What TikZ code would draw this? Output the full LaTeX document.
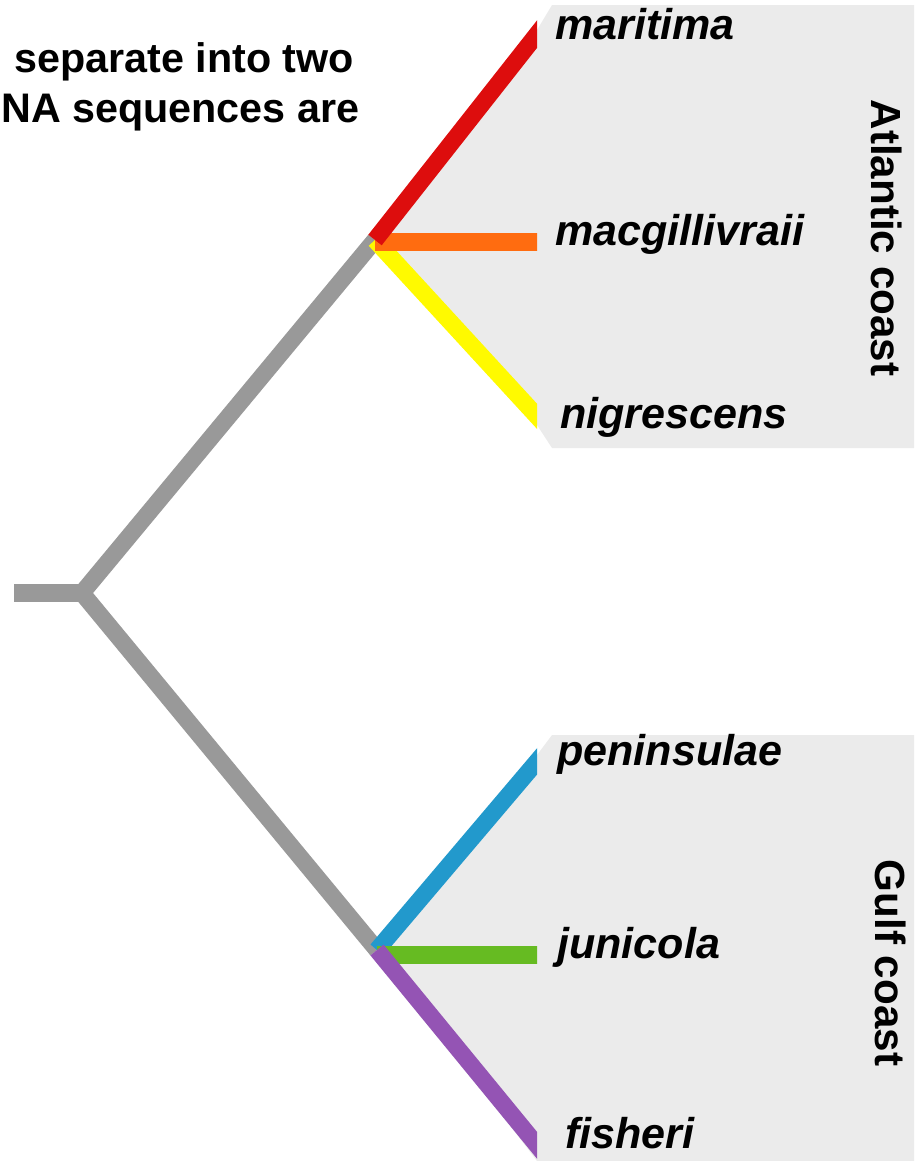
\documentclass[tikz,border=0pt]{standalone}
\usepackage{fontspec}
\setmainfont{Liberation Sans}
\definecolor{branchgray}{RGB}{153,153,153}
\definecolor{panelgray}{RGB}{235,235,235}
\definecolor{maritimared}{RGB}{221,13,13}
\definecolor{macgorange}{RGB}{255,108,16}
\definecolor{nigryellow}{RGB}{255,250,0}
\definecolor{peninblue}{RGB}{34,153,204}
\definecolor{junigreen}{RGB}{102,187,34}
\definecolor{fishpurple}{RGB}{148,84,180}
\tikzset{
  branch/.style={line width=9.7pt},
  spec/.style={font=\fontsize{24.5}{29}\selectfont\bfseries\itshape, anchor=base west, inner sep=0pt},
  coast/.style={font=\fontsize{24}{29}\selectfont\bfseries, rotate=-90, inner sep=0pt},
  note/.style={font=\fontsize{23.5}{28}\selectfont\bfseries, anchor=base west, inner sep=0pt}
}
\begin{document}
\begin{tikzpicture}[x=0.02cm, y=-0.02cm]
        \useasboundingbox (0,0) rectangle (914,1161);
        % Knoten
        \coordinate (stub) at (14,593);
        \coordinate (root) at (82,593);
        \coordinate (atl) at (375,240);
        \coordinate (gulf) at (377,950);
        % Spitzen (bei x=537 abgeschnitten)
        \coordinate (tmar) at (545,24);
        \coordinate (tmac) at (545,242);
        \coordinate (tnig) at (545,425);
        \coordinate (tpen) at (545,752);
        \coordinate (tjun) at (545,955);
        \coordinate (tfis) at (545,1155);
        % Hintergrund
        \fill[panelgray] (atl) -- (537,30) -- (552,5) -- (914,5) -- (914,448) -- (552,448) -- (537,425) -- cycle;
        \fill[panelgray] (gulf) -- (537,755) -- (552,735) -- (914,735) -- (914,1161) -- (537,1161) -- cycle;
        % Text oben
        \draw (14,72) node[note] (line1) {separate into two};
        \draw (1,122) node[note] (line2) {NA sequences are};
        % Stamm
        \draw[branch, branchgray, line join=miter] (atl) -- (root) -- (gulf);
        \draw[branch, branchgray] (stub) -- (root);
        % Aeste
        \begin{scope}
          \clip (0,0) rectangle (537,1161);
          \draw[branch, nigryellow] (atl) -- (tnig);
          \draw[branch, macgorange] (atl |- tmac) -- (tmac);
          \draw[branch, maritimared] (atl) -- (tmar);
          \draw[branch, peninblue] (gulf) -- (tpen);
          \draw[branch, junigreen] (gulf |- tjun) -- (tjun);
          \draw[branch, fishpurple] (gulf) -- (tfis);
        \end{scope}
        % Arten
        \draw (555,39) node[spec] (maritima) {maritima};
        \draw (555,245) node[spec] (macgillivraii) {macgillivraii};
        \draw (560,428) node[spec] (nigrescens) {nigrescens};
        \draw (557,765) node[spec] (peninsulae) {peninsulae};
        \draw (557,958) node[spec] (junicola) {junicola};
        \draw (565,1148) node[spec] (fisheri) {fisheri};
        % Kuesten
        \draw (887,238) node[coast] (atlantic) {Atlantic coast};
        \draw (891,963) node[coast] (gulfcoast) {Gulf coast};
\end{tikzpicture}
\end{document}
